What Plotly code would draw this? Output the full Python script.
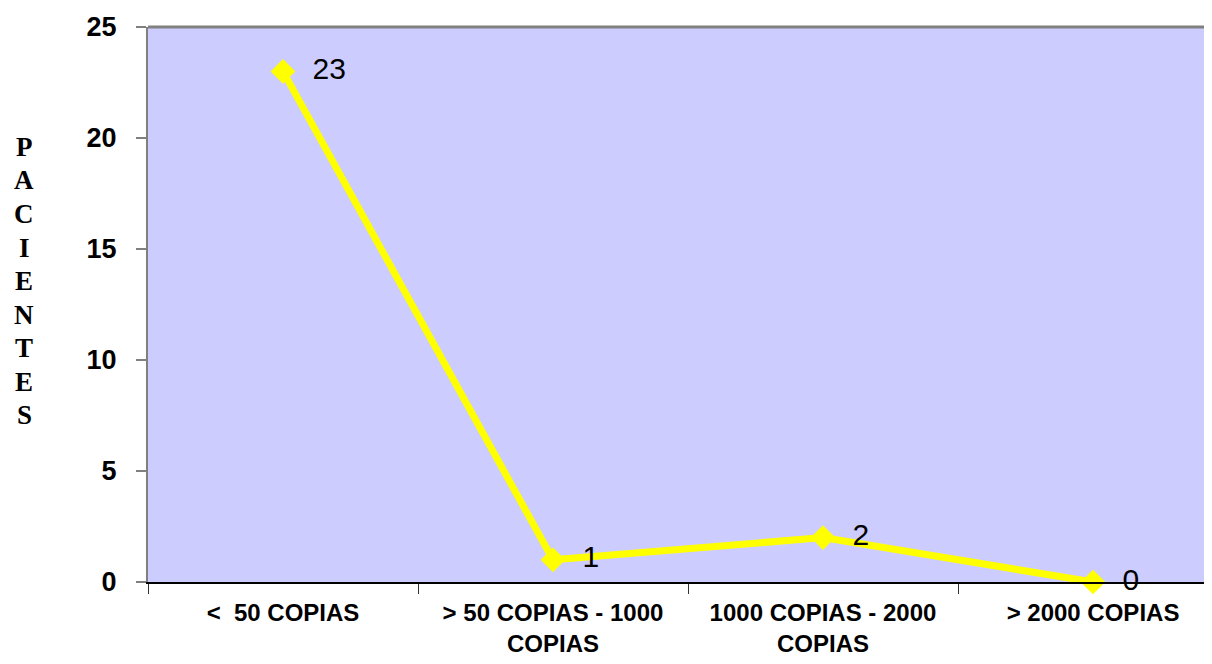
import plotly.graph_objects as go

categories = ["<  50 COPIAS", "> 50 COPIAS - 1000<br>COPIAS", "1000 COPIAS - 2000<br>COPIAS", "> 2000 COPIAS"]
pacientes = [23, 1, 2, 0]
y_ticks = [0, 5, 10, 15, 20, 25]
y_title_letters = list("PACIENTES")

# page body has an 8px margin; size the figure so it fits the 1212x664 window
OFF = 8
W, H = 1212 - 2 * OFF, 664 - 2 * OFF
L = 148 - OFF
T = 27 - OFF
B = H - (582 - OFF)
R = 0
plot_w = W - L - R
plot_h = H - T - B
cat_px = 270

fig = go.Figure()
fig.add_trace(go.Scatter(
    x=categories, y=pacientes,
    mode="lines+markers+text",
    line=dict(color="#FFFF00", width=7),
    marker=dict(symbol="diamond", size=19, color="#FFFF00"),
    text=[f"  {v}" for v in pacientes],
    textposition="middle right",
    textfont=dict(family="Liberation Sans, Arial", size=30, color="black"),
    cliponaxis=False,
    showlegend=False,
))

fig.update_layout(
    width=W, height=H,
    margin=dict(l=L, r=R, t=T, b=B, autoexpand=False),
    paper_bgcolor="white",
    plot_bgcolor="#CCCCFF",
    xaxis=dict(
        type="category",
        range=[-0.5, -0.5 + plot_w / cat_px],
        tickson="boundaries",
        ticks="outside", ticklen=10, tickcolor="#333333", tickwidth=1,
        showline=True, linecolor="black", linewidth=2,
        showgrid=False, zeroline=False,
        tickfont=dict(family="Liberation Sans, Arial", size=24, color="black", weight="bold"),
        ticklabelstandoff=8,
        automargin=False,
    ),
    yaxis=dict(
        range=[0, 25],
        tickmode="array", tickvals=y_ticks,
        ticks="outside", ticklen=10, tickcolor="#808080", tickwidth=2,
        showline=True, linecolor="#808080", linewidth=2,
        showgrid=False, zeroline=False,
        tickfont=dict(family="Liberation Sans, Arial", size=27, color="black", weight="bold"),
        ticklabelstandoff=14,
        automargin=False,
    ),
)

# top border of plot area
fig.add_shape(type="line", xref="paper", yref="paper", x0=0, x1=1, y0=1, y1=1,
              line=dict(color="#808080", width=3))

# vertical y-axis title, one letter per line
first_y, step = 147, 33.5
for i, ch in enumerate(y_title_letters):
    yc = first_y + i * step - OFF
    fig.add_annotation(
        xref="paper", yref="paper",
        x=(24 - OFF - L) / plot_w, y=(H - B - yc) / plot_h,
        text=ch, showarrow=False,
        xanchor="center", yanchor="middle",
        font=dict(family="Liberation Serif, Times New Roman", size=27, color="black", weight="bold"),
    )

fig.write_html("out.html")
